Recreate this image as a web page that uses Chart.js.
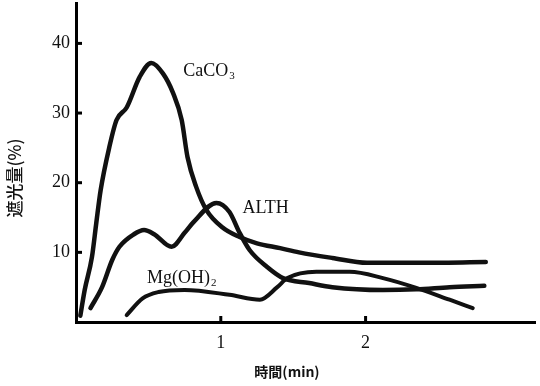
<!DOCTYPE html>
<html>
<head>
<meta charset="utf-8">
<script src="https://cdn.jsdelivr.net/npm/chart.js@4.4.0/dist/chart.umd.min.js"></script>
<style>
  html, body { margin: 0; padding: 0; background: #fff; }
  #wrap { width: 540px; height: 386px; }
</style>
</head>
<body>
<div id="wrap"><canvas id="chart"></canvas></div>
<script>
// time (min) / light blocking (%)
const caco3Time = [0.03, 0.06, 0.11, 0.14, 0.17, 0.23, 0.28, 0.35, 0.44, 0.52, 0.60, 0.67, 0.73, 0.77, 0.83, 0.90, 1.01, 1.13, 1.25, 1.41, 1.54, 1.77, 2.01, 2.35, 2.83];
const caco3Value = [0.9, 4.6, 9.3, 14.2, 18.9, 25.1, 29.0, 30.8, 35.2, 37.2, 35.7, 32.9, 29.0, 23.7, 19.4, 16.1, 13.6, 12.2, 11.3, 10.6, 10.0, 9.2, 8.5, 8.5, 8.6];

const althTime = [0.10, 0.18, 0.25, 0.30, 0.40, 0.47, 0.54, 0.66, 0.75, 0.81, 0.97, 1.06, 1.13, 1.20, 1.32, 1.43, 1.61, 1.77, 2.12, 2.35, 2.58, 2.82];
const althValue = [2.0, 5.0, 8.9, 10.8, 12.6, 13.2, 12.6, 10.8, 12.8, 14.3, 17.1, 15.8, 12.8, 10.3, 7.9, 6.3, 5.6, 5.0, 4.6, 4.7, 5.0, 5.2];

const mgTime = [0.35, 0.46, 0.57, 0.75, 1.06, 1.27, 1.39, 1.46, 1.66, 1.89, 2.12, 2.35, 2.58, 2.74];
const mgValue = [1.0, 3.4, 4.3, 4.6, 3.9, 3.2, 5.0, 6.3, 7.2, 7.2, 6.3, 4.9, 3.2, 2.0];

const xTicks = [1, 2];
const yTicks = [10, 20, 30, 40];

const toPoints = (xs, ys) => xs.map((x, i) => ({ x: x, y: ys[i] }));

const lineStyle = {
    showLine: true,
    borderColor: "#111",
    borderWidth: 4.5,
    pointRadius: 0,
    fill: false,
    cubicInterpolationMode: "monotone",
    borderCapStyle: "round",
    borderJoinStyle: "round"
};

// curve names, x title, y title and inner tick marks
const annotate = {
    id: "annotate",
    afterDraw(chart) {
        const ctx = chart.ctx;
        const xs = chart.scales.x, ys = chart.scales.y;
        ctx.save();
        ctx.strokeStyle = "#000";
        ctx.lineWidth = 3;
        yTicks.forEach(v => {
            const py = ys.getPixelForValue(v);
            ctx.beginPath();
            ctx.moveTo(xs.left, py);
            ctx.lineTo(xs.left + 6, py);
            ctx.stroke();
        });
        xTicks.forEach(v => {
            const px = xs.getPixelForValue(v);
            ctx.beginPath();
            ctx.moveTo(px, ys.bottom);
            ctx.lineTo(px, ys.bottom - 6);
            ctx.stroke();
        });

        ctx.fillStyle = "#111";
        ctx.textBaseline = "alphabetic";
        ctx.textAlign = "left";
        const withSub = (main, sub, x, y) => {
            ctx.font = "18px 'Liberation Serif'";
            ctx.fillText(main, x, y);
            const w = ctx.measureText(main).width;
            ctx.font = "11px 'Liberation Serif'";
            ctx.fillText(sub, x + w + 1, y + 3);
        };
        withSub("CaCO", "3", xs.getPixelForValue(0.74), ys.getPixelForValue(35.3));
        withSub("ALTH", "", xs.getPixelForValue(1.15), ys.getPixelForValue(15.7));
        withSub("Mg(OH)", "2", xs.getPixelForValue(0.49), ys.getPixelForValue(5.6));

        ctx.font = "bold 14px 'Noto Sans CJK JP'";
        ctx.textAlign = "center";
        ctx.textBaseline = "middle";
        ctx.fillText("時間(min)", 287, 372);

        ctx.font = "500 17px 'Noto Sans CJK JP'";
        ctx.translate(15, 178);
        ctx.rotate(-Math.PI / 2);
        ctx.fillText("遮光量(%)", 0, 0);
        ctx.restore();
    }
};

new Chart(document.getElementById("chart"), {
    type: "scatter",
    data: {
        datasets: [
            Object.assign({ label: "CaCO3", data: toPoints(caco3Time, caco3Value) }, lineStyle),
            Object.assign({ label: "ALTH", data: toPoints(althTime, althValue) }, lineStyle),
            Object.assign({ label: "Mg(OH)2", data: toPoints(mgTime, mgValue) }, lineStyle, { borderWidth: 4 })
        ]
    },
    options: {
        responsive: true,
        maintainAspectRatio: false,
        devicePixelRatio: 1,
        animation: false,
        layout: { padding: { left: 0, top: 3, right: 5, bottom: 0 } },
        plugins: {
            legend: { display: false },
            tooltip: { enabled: false }
        },
        scales: {
            x: {
                type: "linear",
                min: 0,
                max: 3.17,
                grid: { display: false, drawTicks: false },
                border: { display: true, color: "#000", width: 3 },
                afterBuildTicks: s => { s.ticks = xTicks.map(v => ({ value: v })); },
                afterFit: s => { s.height = 64; s.paddingLeft = 0; s.paddingRight = 0; },
                ticks: {
                    color: "#111",
                    padding: 10,
                    font: { family: "'Liberation Serif'", size: 18 },
                    callback: v => String(v)
                }
            },
            y: {
                type: "linear",
                min: 0,
                max: 45.8,
                grid: { display: false, drawTicks: false },
                border: { display: true, color: "#000", width: 3 },
                afterBuildTicks: s => { s.ticks = yTicks.map(v => ({ value: v })); },
                afterFit: s => { s.width = 76; s.paddingTop = 0; s.paddingBottom = 0; },
                ticks: {
                    color: "#111",
                    padding: 6,
                    font: { family: "'Liberation Serif'", size: 18 },
                    callback: v => String(v)
                }
            }
        }
    },
    plugins: [annotate]
});
</script>
</body>
</html>
